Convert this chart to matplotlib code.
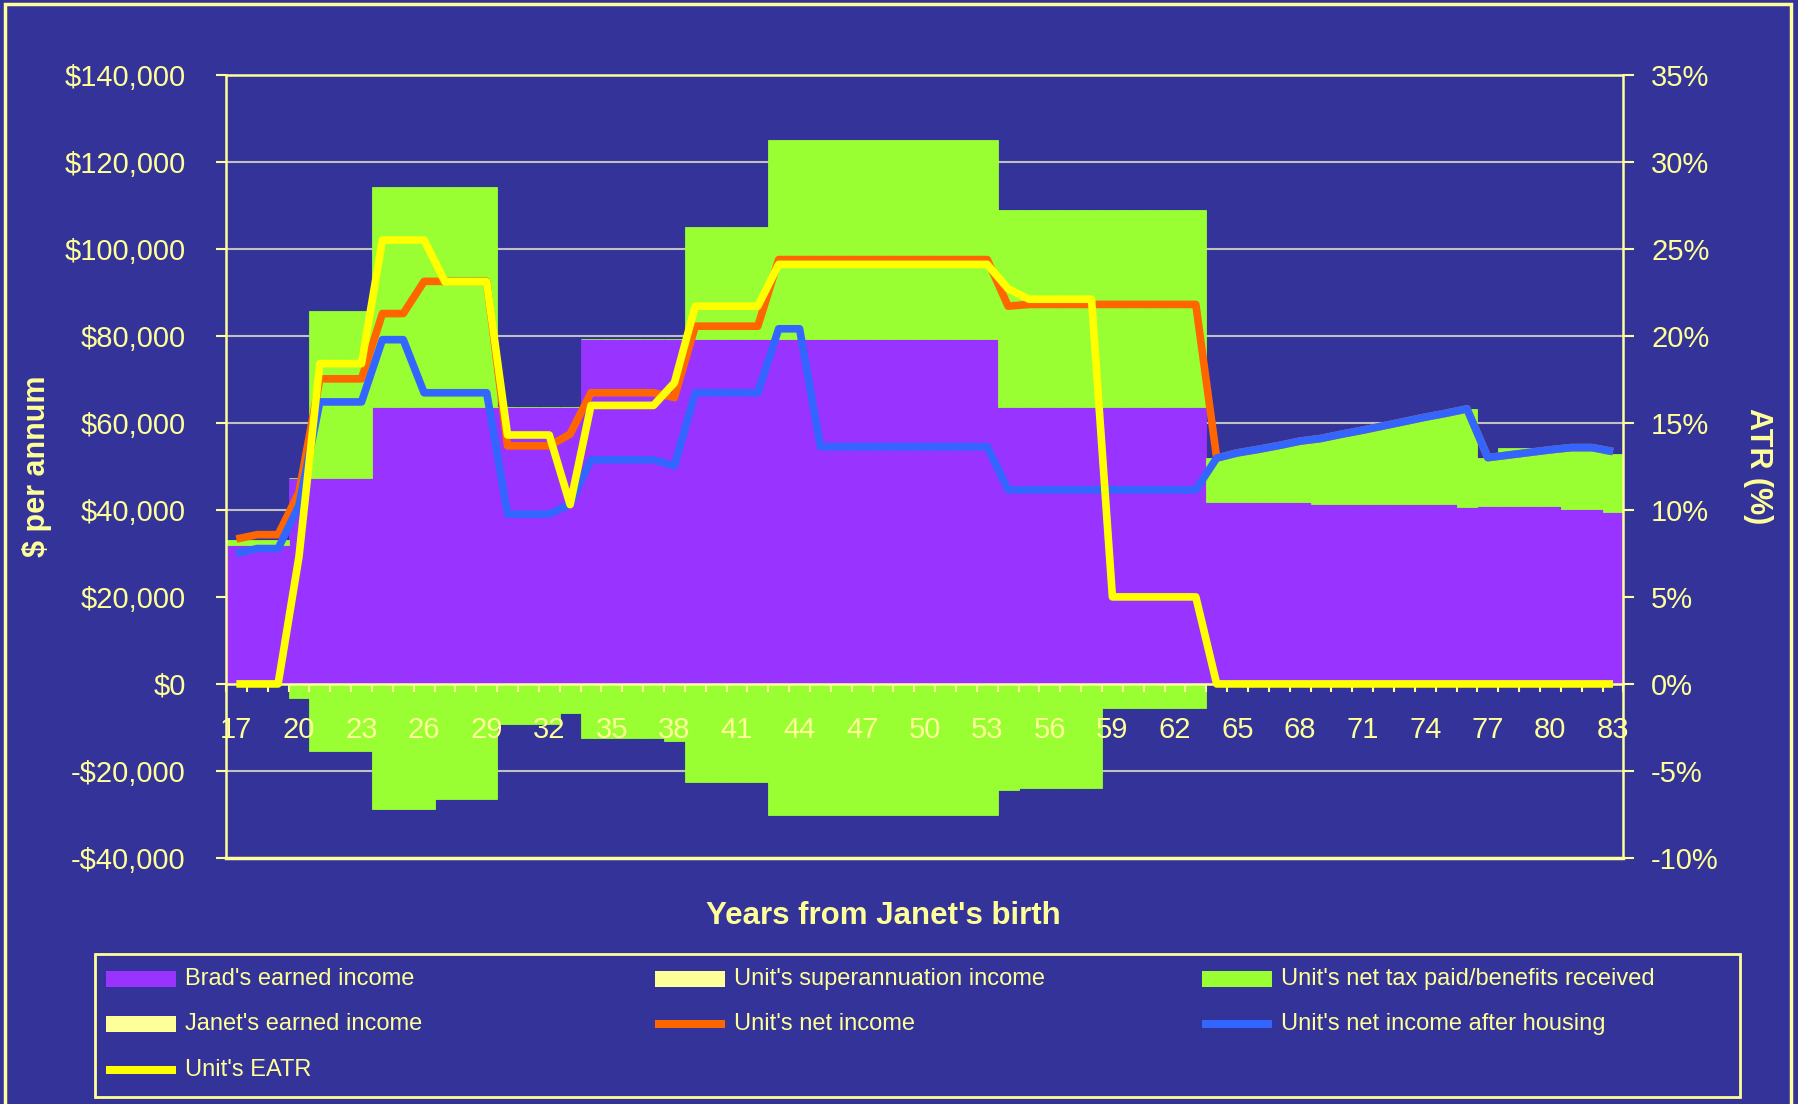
import numpy as np
import matplotlib
matplotlib.use("Agg")
import matplotlib.pyplot as plt
from matplotlib.patches import Rectangle
from matplotlib.ticker import FuncFormatter, MultipleLocator

plt.rcParams['font.family'] = ['Liberation Sans', 'DejaVu Sans']

# Years from Janet's birth
ages = list(range(17, 84))

# Brad's earned income ($ p.a.)
brad_income = [31900, 31900, 31900,
               47400, 47400, 47400, 47400,
               63600, 63600, 63600, 63600, 63600, 63600, 63600, 63600, 63600, 63600,
               79300, 79300, 79300, 79300, 79300, 79300, 79300, 79300, 79300, 79300,
               79300, 79300, 79300, 79300, 79300, 79300, 79300, 79300, 79300, 79300,
               63600, 63600, 63600, 63600, 63600, 63600, 63600, 63600, 63600, 63600,
               41800, 41800, 41800, 41800, 41800,
               41300, 41300, 41300, 41300, 41300, 41300, 41300,
               40700, 40900, 40900, 40900, 40900, 40100, 40100, 39400]

# Top of the green column (gross income / income plus benefits)
gross_income = [33000, 33000, 33000, 47400,
                85600, 85600, 85600,
                114100, 114100, 114100, 114100, 114100, 114100,
                63600, 63600, 63600, 63600,
                79300, 79300, 79300, 79300, 79300,
                104900, 104900, 104900, 104900,
                125000, 125000, 125000, 125000, 125000, 125000, 125000, 125000, 125000, 125000, 125000,
                108900, 108900, 108900, 108900, 108900, 108900, 108900, 108900, 108900, 108900,
                51900, 53100, 53900, 54800, 55800, 56400, 57400, 58300, 59300, 60300, 61300, 62200, 63200,
                52000, 54300, 54300, 54300, 54300, 54300, 52800]

# Net tax paid (below zero)
tax_paid = [0, 0, 0, -3300,
            -15300, -15300, -15300,
            -28800, -28800, -28800, -26400, -26400, -26400,
            -9200, -9200, -9200, -6700,
            -12400, -12400, -12400, -12400, -13200,
            -22600, -22600, -22600, -22600,
            -30000, -30000, -30000, -30000, -30000, -30000, -30000, -30000, -30000, -30000, -30000,
            -24300, -23900, -23900, -23900, -23900,
            -5600, -5600, -5600, -5600, -5600,
            0, 0, 0, 0, 0, 0, 0, 0, 0, 0, 0, 0, 0, 0, 0, 0, 0, 0, 0, 0]

net_income = [33300, 34300, 34300, 44000,
              70100, 70100, 70100, 85100, 85100,
              92500, 92500, 92500, 92500,
              54700, 54700, 54700, 57400,
              66900, 66900, 66900, 66900, 65800,
              82200, 82200, 82200, 82200,
              97500, 97500, 97500, 97500, 97500, 97500, 97500, 97500, 97500, 97500, 97500,
              86800, 87200, 87200, 87200, 87200, 87200, 87200, 87200, 87200, 87200,
              51900, 53100, 53900, 54800, 55800, 56400, 57400, 58300, 59300, 60300, 61300, 62200, 63200,
              52000, 52600, 53200, 53800, 54300, 54300, 53400]

net_after_housing = [30000, 31100, 31100, 41000,
                     64800, 64800, 64800, 79100, 79100,
                     66900, 66900, 66900, 66900,
                     39000, 39000, 39000, 41300,
                     51500, 51500, 51500, 51500, 50100,
                     66900, 66900, 66900, 66900,
                     81600, 81600,
                     54500, 54500, 54500, 54500, 54500, 54500, 54500, 54500, 54500,
                     44600, 44600, 44600, 44600, 44600, 44600, 44600, 44600, 44600, 44600,
                     51900, 53100, 53900, 54800, 55800, 56400, 57400, 58300, 59300, 60300, 61300, 62200, 63200,
                     52000, 52600, 53200, 53800, 54300, 54300, 53400]

# Effective average tax rate (%)
eatr = [0, 0, 0, 7.3,
        18.4, 18.4, 18.4,
        25.5, 25.5, 25.5, 23.1, 23.1, 23.1,
        14.3, 14.3, 14.3, 10.3,
        16.0, 16.0, 16.0, 16.0, 17.3,
        21.7, 21.7, 21.7, 21.7,
        24.1, 24.1, 24.1, 24.1, 24.1, 24.1, 24.1, 24.1, 24.1, 24.1, 24.1,
        22.7, 22.1, 22.1, 22.1, 22.1,
        5.0, 5.0, 5.0, 5.0, 5.0,
        0, 0, 0, 0, 0, 0, 0, 0, 0, 0, 0, 0, 0, 0, 0, 0, 0, 0, 0, 0]

BG = '#333399'
PALE = '#FFFF99'
PURPLE = '#9933FF'
GREEN = '#99FF33'
ORANGE = '#FF6600'
BLUE = '#3366FF'
YELLOW = '#FFFF00'
GRID = '#C0C0C0'

x = np.arange(len(ages))
green_above = [g - b for g, b in zip(gross_income, brad_income)]

fig = plt.figure(figsize=(17.99, 11.04), dpi=100, facecolor=BG)
ax = fig.add_axes([0.1256, 0.2228, 0.7768, 0.7096])
ax.set_facecolor(BG)

# horizontal gridlines behind the columns
for gy in range(-20000, 140000, 20000):
    ax.axhline(gy, color=GRID, lw=1.5, zorder=0.5)

# stacked columns, no gaps
ax.bar(x, brad_income, width=1.0, color=PURPLE, edgecolor=PURPLE, linewidth=0.6, zorder=1)
ax.bar(x, green_above, bottom=brad_income, width=1.0, color=GREEN, edgecolor=GREEN, linewidth=0.6, zorder=1)
ax.bar(x, tax_paid, width=1.0, color=GREEN, edgecolor=GREEN, linewidth=0.6, zorder=1)

line_kw = dict(lw=5.5, solid_joinstyle='round', solid_capstyle='butt', zorder=3)
ax.plot(x, net_income, color=ORANGE, **line_kw)
ax.plot(x, net_after_housing, color=BLUE, **line_kw)

ax.set_xlim(-0.5, len(ages) - 0.5)
ax.set_ylim(-40000, 140000)
ax.yaxis.set_major_locator(MultipleLocator(20000))
ax.yaxis.set_major_formatter(FuncFormatter(
    lambda v, p: f"${v:,.0f}" if v >= 0 else f"-${-v:,.0f}"))

for side in ['left', 'top', 'bottom']:
    ax.spines[side].set_color(PALE)
    ax.spines[side].set_linewidth(1.8)
ax.spines['right'].set_visible(False)
ax.spines['bottom'].set_position(('data', 0))
ax.axhline(-40000, color=PALE, lw=2.5, clip_on=False, zorder=5)

ax.set_xticks(x[::3])
ax.set_xticklabels([str(a) for a in ages[::3]])
ax.set_xticks(np.arange(-0.5, len(ages), 1), minor=True)
ax.tick_params(axis='x', which='major', length=0, pad=23, labelsize=21, labelcolor=PALE)
ax.tick_params(axis='x', which='minor', length=6, width=1.5, color=PALE, direction='out')
ax.tick_params(axis='y', length=7, width=1.5, color=PALE, direction='out', pad=22,
               labelsize=21, labelcolor=PALE)

ax.set_ylabel('$ per annum', fontsize=22, fontweight='bold', color=PALE, va='center')
ax.yaxis.set_label_coords(-0.135, 0.5)

# EATR on the secondary axis
ax2 = ax.twinx()
ax2.plot(x, eatr, color=YELLOW, **line_kw)
ax2.set_ylim(-10, 35)
ax2.yaxis.set_major_locator(MultipleLocator(5))
ax2.yaxis.set_major_formatter(FuncFormatter(lambda v, p: f"{v:.0f}%"))
for side in ['left', 'top', 'bottom']:
    ax2.spines[side].set_visible(False)
ax2.spines['right'].set_color(PALE)
ax2.spines['right'].set_linewidth(1.8)
ax2.tick_params(axis='y', length=8, width=1.5, color=PALE, direction='out', pad=12,
                labelsize=21, labelcolor=PALE)
ax2.set_ylabel('ATR (%)', rotation=270, fontsize=22, fontweight='bold', color=PALE, va='center')
ax2.yaxis.set_label_coords(1.096, 0.5)

fig.text(883 / 1799, 1 - 916 / 1104, "Years from Janet's birth", ha='center', va='center',
         fontsize=22.5, fontweight='bold', color=PALE)

# legend box
W, H = 1799.0, 1104.0
fig.add_artist(Rectangle((95 / W, 1 - 1097 / H), 1645 / W, 143 / H, transform=fig.transFigure,
                         facecolor='none', edgecolor=PALE, lw=2))
legend_items = [
    ("Brad's earned income", PURPLE, 'patch', 0, 0),
    ("Unit's superannuation income", PALE, 'patch', 1, 0),
    ("Unit's net tax paid/benefits received", GREEN, 'patch', 2, 0),
    ("Janet's earned income", PALE, 'patch', 0, 1),
    ("Unit's net income", ORANGE, 'line', 1, 1),
    ("Unit's net income after housing", BLUE, 'line', 2, 1),
    ("Unit's EATR", YELLOW, 'line', 0, 2),
]
col_x = [105.6, 655.0, 1202.4]
row_y = [979, 1024, 1070]
for label, color, kind, col, row in legend_items:
    h = 16 if kind == 'patch' else 8
    y0 = row_y[row]
    fig.add_artist(Rectangle((col_x[col] / W, 1 - (y0 + h / 2) / H), 70 / W, h / H,
                             transform=fig.transFigure, facecolor=color, edgecolor='none'))
    fig.text((col_x[col] + 79) / W, 1 - y0 / H, label, ha='left', va='center',
             fontsize=17, color=PALE)

# outer chart border
fig.add_artist(Rectangle((5 / W, -0.01), 1786 / W, 1 - 4 / H + 0.01, transform=fig.transFigure,
                         facecolor='none', edgecolor=PALE, lw=2.5))

fig.savefig('out.png', dpi=100, facecolor=BG)
